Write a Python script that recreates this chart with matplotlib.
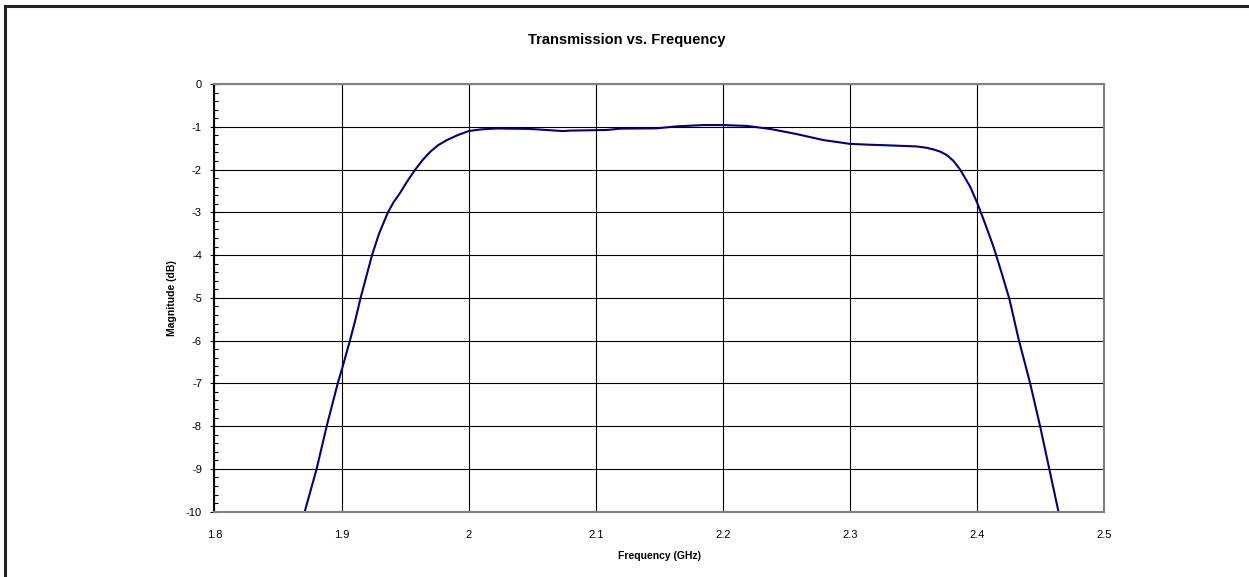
import matplotlib.pyplot as plt
from matplotlib.lines import Line2D
from matplotlib.ticker import MultipleLocator

plt.rcParams['font.family'] = ['Liberation Sans', 'DejaVu Sans']

# values
freq_ghz = [1.871, 1.8804, 1.8883, 1.897, 1.900, 1.9066, 1.911, 1.915, 1.9195, 1.9240,
            1.9295, 1.9365, 1.941, 1.946, 1.952, 1.958, 1.964, 1.970, 1.976, 1.983,
            1.991, 2.000, 2.010, 2.022, 2.048, 2.074, 2.0797, 2.1086,
            2.119, 2.148, 2.1637, 2.1847, 2.2004, 2.2188, 2.2372, 2.258, 2.279, 2.3001,
            2.3158, 2.3263, 2.3526, 2.3600, 2.3657, 2.3710, 2.3762, 2.3815, 2.3867, 2.3946,
            2.4003, 2.4063, 2.4129, 2.4195, 2.4255, 2.4326, 2.4418, 2.4497, 2.457, 2.4641]
mag_db = [-10.0, -9.0, -8.0, -7.0, -6.7, -6.0, -5.5, -5.0, -4.5, -4.0,
          -3.5, -3.0, -2.76, -2.55, -2.26, -2.0, -1.77, -1.58, -1.43, -1.31,
          -1.20, -1.10, -1.06, -1.04, -1.05, -1.10, -1.09, -1.075,
          -1.044, -1.036, -0.99, -0.96, -0.96, -0.98, -1.05, -1.17, -1.31, -1.40,
          -1.42, -1.43, -1.46, -1.49, -1.53, -1.58, -1.66, -1.80, -2.0, -2.40,
          -2.79, -3.26, -3.80, -4.43, -5.03, -5.95, -7.0, -8.01, -9.02, -10.0]

fig = plt.figure(figsize=(12.49, 5.77), dpi=100)
ax = fig.add_axes([0.1717, 0.1132, 0.7123, 0.7412])

ax.plot(freq_ghz, mag_db, color='#000080', linewidth=1.5)

ax.set_xlim(1.8, 2.5)
ax.set_ylim(-10, 0)
ax.xaxis.set_major_locator(MultipleLocator(0.1))
ax.yaxis.set_major_locator(MultipleLocator(1))
ax.yaxis.set_minor_locator(MultipleLocator(0.2))
ax.xaxis.set_major_formatter(plt.FuncFormatter(lambda v, p: f'{v:g}'))
ax.yaxis.set_major_formatter(plt.FuncFormatter(lambda v, p: f'{v:g}'))

ax.grid(True, which='major', color='black', linewidth=0.8)
ax.set_axisbelow(True)
ax.tick_params(axis='x', length=0, labelsize=8, pad=13)
ax.tick_params(axis='y', which='major', direction='inout', length=6, width=0.8, labelsize=8, pad=6)
ax.tick_params(axis='y', which='minor', direction='in', length=3, width=0.8)

for side in ['top', 'bottom', 'right']:
    ax.spines[side].set_color('#808080')
    ax.spines[side].set_linewidth(1.5)
ax.spines['left'].set_color('black')
ax.spines['left'].set_linewidth(1.5)

ax.set_xlabel('Frequency (GHz)', fontsize=7.5, fontweight='bold', labelpad=8)
ax.set_ylabel('Magnitude (dB)', fontsize=7.5, fontweight='bold', labelpad=6)
fig.text(0.502, 0.931, 'Transmission vs. Frequency', ha='center', va='center',
         fontsize=10.5, fontweight='bold')

# outer chart border (only top and left are inside the picture)
fig.add_artist(Line2D([5 / 1249, 5 / 1249], [0, 1 - 6 / 577], color='#222222', linewidth=2.2))
fig.add_artist(Line2D([5 / 1249, 1], [1 - 6 / 577, 1 - 6 / 577], color='#222222', linewidth=2.2))

fig.savefig('out.png', dpi=100)
